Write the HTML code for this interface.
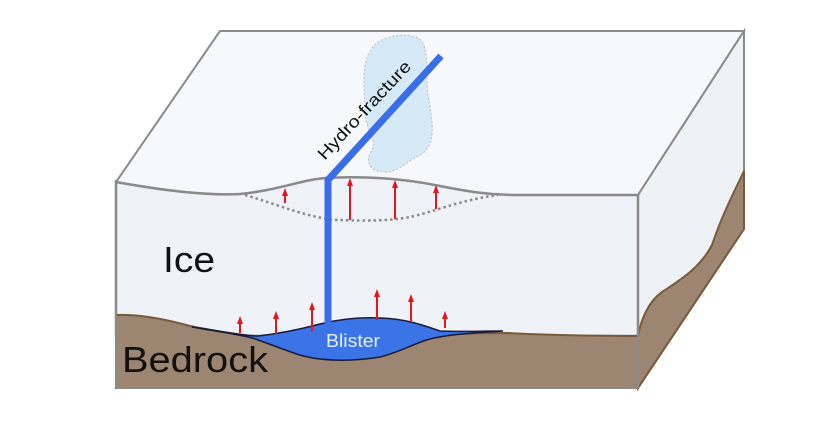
<!DOCTYPE html>
<html><head><meta charset="utf-8"><style>body{margin:0;background:#fff}svg{display:block}</style></head>
<body>
<svg width="836" height="424" viewBox="0 0 836 424" xmlns="http://www.w3.org/2000/svg" font-family="Liberation Sans, sans-serif">
<defs><marker id="a" markerUnits="userSpaceOnUse" markerWidth="8" markerHeight="8" refX="4" refY="4" orient="auto"><path d="M0,1 L8,4 L0,7 z" fill="#e8141b"/></marker></defs>
<!-- top face -->
<path d="M220,31 L744,31 L638,195 L520,195 C490,195 470,192 440,186 C400,178 360,176 326,178 C300,180 280,190 240,194 C205,196 160,190 116,182 Z" fill="#f6f8fb" stroke="#8a8a8a" stroke-width="2"/>
<!-- right face -->
<polygon points="638,195 744,31 744,229 638,388" fill="#eef1f5" stroke="#8a8a8a" stroke-width="2"/>
<path d="M744,171 C735,190 722,215 712,245 C700,268 680,280 662,292 C648,302 641,320 638,336 L638,388 L744,229 Z" fill="#9c8672" stroke="#7a5a3c" stroke-width="2"/>
<!-- front face ice -->
<path d="M116,182 C160,190 205,196 240,194 C280,190 300,180 326,178 C360,176 400,178 440,186 C470,192 490,195 520,195 L638,195 L638,336 L116,336 Z" fill="#eff3f8" stroke="#8a8a8a" stroke-width="2.5"/>
<!-- bedrock front -->
<path d="M116,315 C140,314 165,319 190,326 C220,332 245,335 258,340 C275,346 290,352 300,355 C320,361 350,362 380,357 C400,352 415,343 430,339 C450,333 480,333 507,333 C540,335 600,336 638,336 L638,388 L116,388 Z" fill="#9c8672" stroke="#7a5a3c" stroke-width="2"/>
<rect x="116" y="337" width="522" height="51" fill="#9c8672"/>
<line x1="116" y1="388" x2="638" y2="388" stroke="#8a8a8a" stroke-width="2"/>
<line x1="116" y1="180" x2="116" y2="388" stroke="#8a8a8a" stroke-width="2"/>
<line x1="638" y1="195" x2="638" y2="388" stroke="#8a8a8a" stroke-width="2"/>
<!-- blister -->
<path d="M192,327 C220,331 245,336 258,336 C285,333 305,328 320,324 C340,319 360,317 380,318 C405,319 420,324 440,331 C460,332 480,331 503,331 C480,333 455,333 430,339 C415,343 400,352 380,357 C350,362 320,361 300,355 C290,352 275,346 258,340 C245,335 220,332 192,327 Z" fill="#3a74e6" stroke="#1a1a3a" stroke-width="1.5"/>
<text x="326" y="347" font-size="18" fill="#e6eeff" textLength="54" lengthAdjust="spacingAndGlyphs">Blister</text>
<!-- dotted -->
<path d="M245,195 C280,205 310,219 340,220 C365,221 390,221 410,217 C430,213 460,200 498,195" fill="none" stroke="#8a8a8a" stroke-width="2.5" stroke-dasharray="2.5,3"/>
<!-- cloud -->
<path d="M372,48 C380,36 405,32 418,38 C430,45 425,70 428,95 C432,120 438,145 420,155 C405,162 400,172 385,172 C368,172 365,160 372,150 C378,140 365,130 365,110 C365,90 360,65 372,48 Z" fill="#d6e9f7" stroke="#b5bcc4" stroke-width="1" stroke-dasharray="2,2"/>
<!-- fracture -->
<path d="M328,325 L328,180 L441,56" fill="none" stroke="#3a6ee6" stroke-width="7" stroke-linejoin="miter"/>
<text x="0" y="0" font-size="17" fill="#111" transform="translate(364,110) rotate(-47)" text-anchor="middle" dy="6" textLength="128" lengthAdjust="spacingAndGlyphs">Hydro-fracture</text>
<!-- arrows -->
<g stroke="#e8141b" stroke-width="2" marker-end="url(#a)">
<line x1="240" y1="333" x2="240" y2="320"/>
<line x1="276" y1="334" x2="276" y2="315"/>
<line x1="312" y1="331" x2="312" y2="306"/>
<line x1="377" y1="320" x2="377" y2="293"/>
<line x1="411" y1="321" x2="411" y2="298"/>
<line x1="445" y1="328" x2="445" y2="315"/>
<line x1="285" y1="203" x2="285" y2="192"/>
<line x1="350" y1="220" x2="350" y2="182"/>
<line x1="395" y1="219" x2="395" y2="184"/>
<line x1="436" y1="209" x2="436" y2="189"/>
</g>
<text x="163" y="272" font-size="36" fill="#111" textLength="52" lengthAdjust="spacingAndGlyphs">Ice</text>
<text x="122" y="372" font-size="36" fill="#111" textLength="146" lengthAdjust="spacingAndGlyphs">Bedrock</text>
</svg>
</body></html>
